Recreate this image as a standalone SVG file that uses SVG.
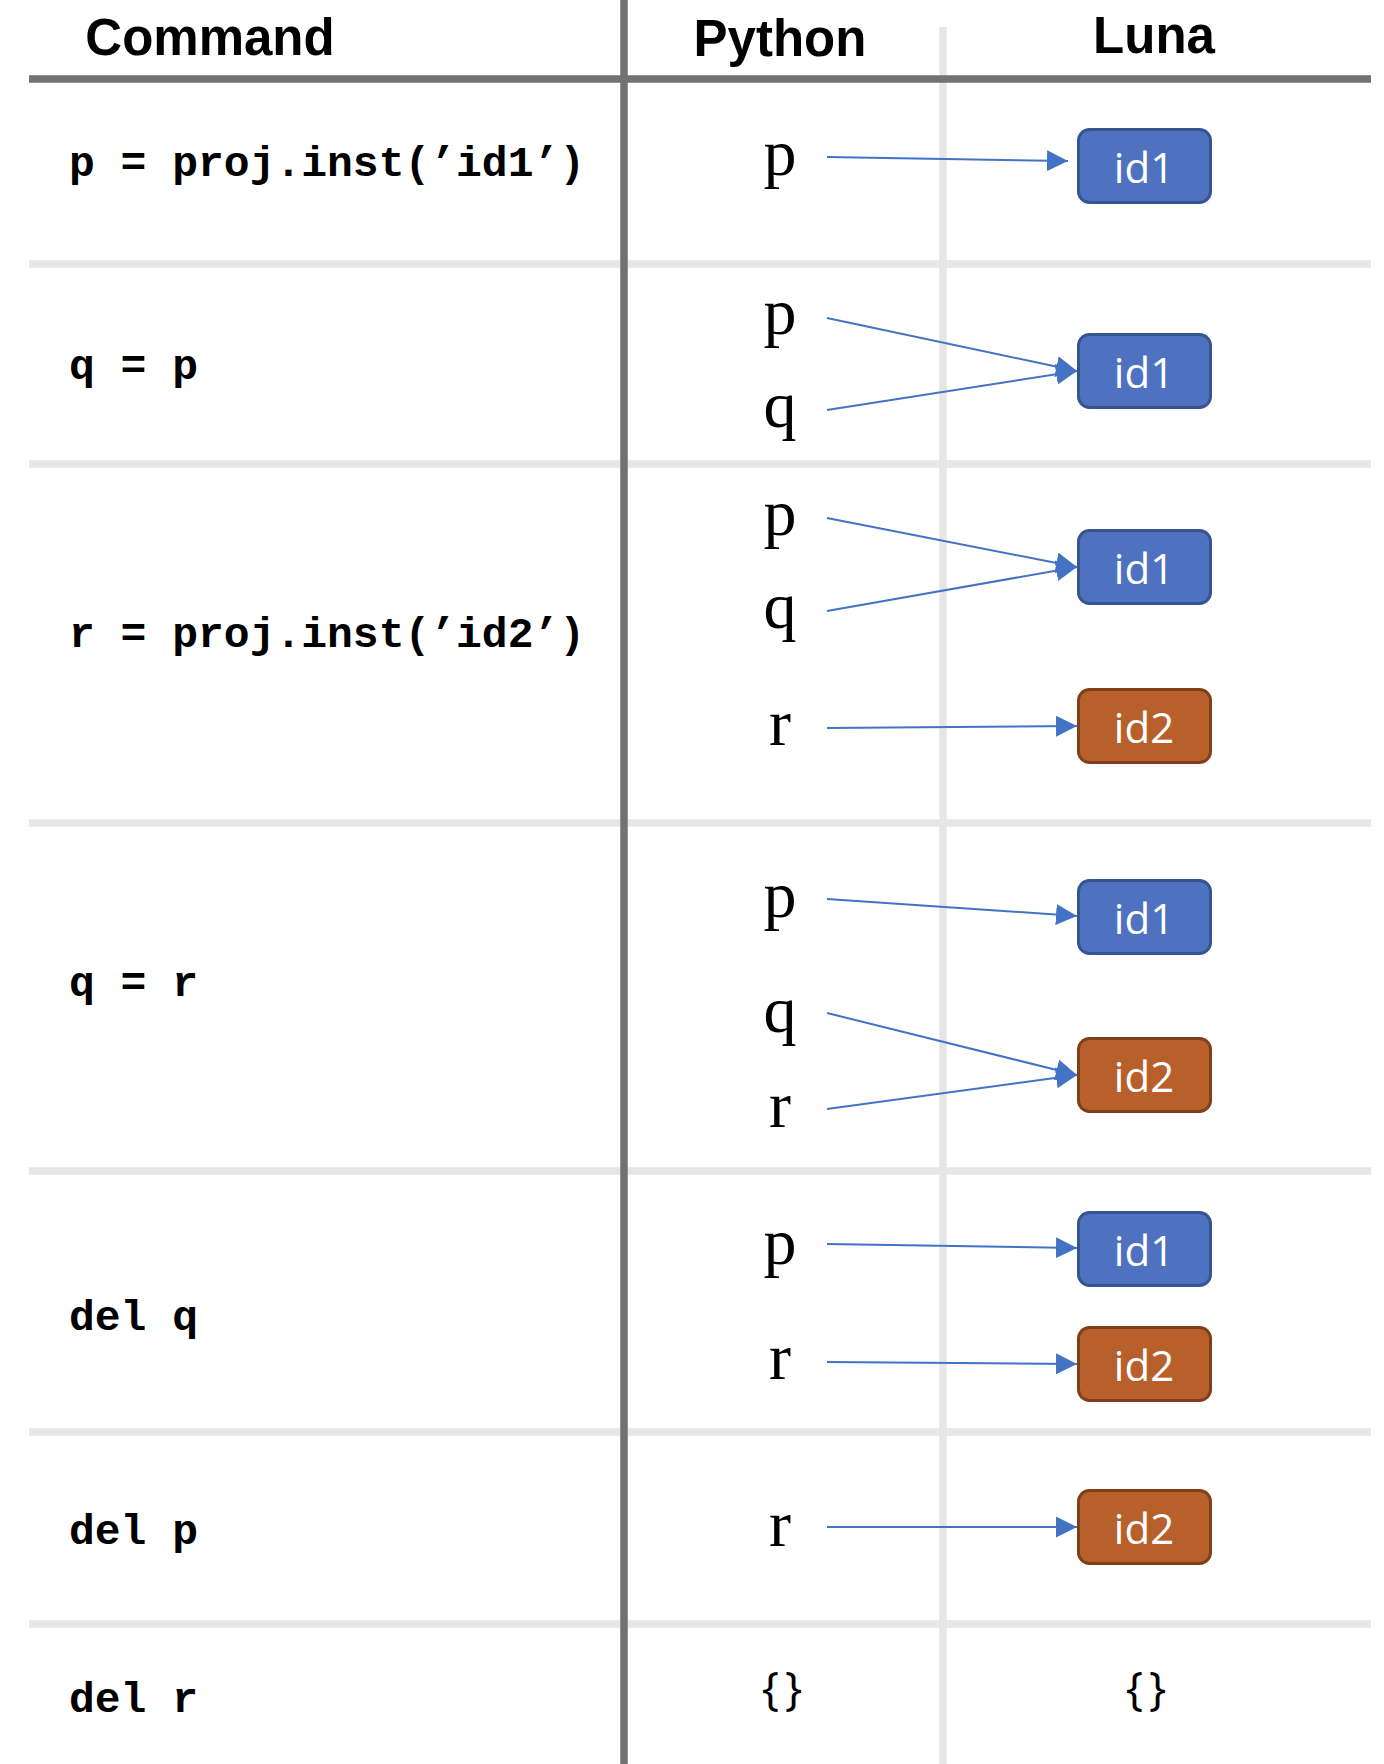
<svg xmlns="http://www.w3.org/2000/svg" width="1384" height="1764" viewBox="0 0 1384 1764">
<style>
.hdr{font-family:"Liberation Sans",Arial,sans-serif;font-weight:bold;font-size:51px;fill:#000;text-anchor:middle}
.cmd{font-family:"Liberation Mono","Courier New",monospace;font-weight:bold;font-size:43px;fill:#000}
.var{font-family:"Liberation Serif","Times New Roman",serif;font-size:66px;fill:#000;text-anchor:middle}
.empty{font-family:"Open Sans","Noto Sans",sans-serif;font-size:46px;fill:#000;text-anchor:middle;letter-spacing:6px}
.lbl{font-family:"Open Sans","Noto Sans",sans-serif;font-size:42px;fill:#fff;text-anchor:middle}
.b1{fill:#4E72BF;stroke:#36548F;stroke-width:3}
.b2{fill:#B8602B;stroke:#7F3F18;stroke-width:3}
.light{stroke:#E7E6E6;stroke-width:7.5}
.dark{stroke:#767171;stroke-width:7.5}
.conn line{stroke:#4472C4;stroke-width:2;marker-end:url(#ah)}
</style>
<defs>
<marker id="ah" markerUnits="userSpaceOnUse" markerWidth="21" markerHeight="21" refX="21" refY="10.5" orient="auto" viewBox="0 0 21 21">
<path d="M0,0 L21,10.5 L0,21 Z" fill="#4472C4"/>
</marker>
</defs>
<rect width="1384" height="1764" fill="#fff"/>
<g id="grid">
<line class="light" x1="943" y1="27" x2="943" y2="1764"/>
<line class="light" x1="29" y1="264" x2="1371" y2="264"/>
<line class="light" x1="29" y1="464" x2="1371" y2="464"/>
<line class="light" x1="29" y1="823" x2="1371" y2="823"/>
<line class="light" x1="29" y1="1171" x2="1371" y2="1171"/>
<line class="light" x1="29" y1="1432" x2="1371" y2="1432"/>
<line class="light" x1="29" y1="1624" x2="1371" y2="1624"/>
<line class="dark" x1="29" y1="79" x2="1371" y2="79"/>
<line class="dark" x1="624" y1="0" x2="624" y2="1764" stroke-width="7"/>
</g>
<g id="headers">
<text class="hdr" x="210" y="55">Command</text>
<text class="hdr" x="780" y="56">Python</text>
<text class="hdr" x="1154" y="53">Luna</text>
</g>
<g id="commands">
<text class="cmd" x="69" y="176">p = proj.inst(’id1’)</text>
<text class="cmd" x="69" y="379">q = p</text>
<text class="cmd" x="69" y="647">r = proj.inst(’id2’)</text>
<text class="cmd" x="69" y="996">q = r</text>
<text class="cmd" x="69" y="1330">del q</text>
<text class="cmd" x="69" y="1544">del p</text>
<text class="cmd" x="69" y="1712">del r</text>
</g>
<g id="connectors" class="conn">
<line x1="827" y1="157" x2="1068" y2="161"/>
<line x1="827" y1="318" x2="1077" y2="371"/>
<line x1="827" y1="410" x2="1077" y2="371"/>
<line x1="827" y1="518" x2="1077" y2="567"/>
<line x1="827" y1="611" x2="1077" y2="567"/>
<line x1="827" y1="728" x2="1077" y2="726"/>
<line x1="827" y1="899" x2="1077" y2="916"/>
<line x1="827" y1="1013" x2="1077" y2="1075"/>
<line x1="827" y1="1109" x2="1077" y2="1075"/>
<line x1="827" y1="1244" x2="1077" y2="1248"/>
<line x1="827" y1="1362" x2="1077" y2="1364"/>
<line x1="827" y1="1527" x2="1077" y2="1527"/>
</g>
<g id="var-r1-p"><text class="var" x="780" y="175">p</text></g>
<g id="var-r2-p"><text class="var" x="780" y="334">p</text></g>
<g id="var-r2-q"><text class="var" x="780" y="427">q</text></g>
<g id="var-r3-p"><text class="var" x="780" y="535">p</text></g>
<g id="var-r3-q"><text class="var" x="780" y="628">q</text></g>
<g id="var-r3-r"><text class="var" x="780" y="745">r</text></g>
<g id="var-r4-p"><text class="var" x="780" y="917">p</text></g>
<g id="var-r4-q"><text class="var" x="780" y="1032">q</text></g>
<g id="var-r4-r"><text class="var" x="780" y="1127">r</text></g>
<g id="var-r5-p"><text class="var" x="780" y="1264">p</text></g>
<g id="var-r5-r"><text class="var" x="780" y="1379">r</text></g>
<g id="var-r6-r"><text class="var" x="780" y="1546">r</text></g>
<g id="py-empty"><text class="empty" x="785" y="1705">{}</text></g>
<g id="luna-empty"><text class="empty" x="1149" y="1705">{}</text></g>
<g id="box-r1-id1"><rect class="b1" x="1078.5" y="129.5" width="132" height="73" rx="11"/><text class="lbl" x="1144" y="183">id1</text></g>
<g id="box-r2-id1"><rect class="b1" x="1078.5" y="334.5" width="132" height="73" rx="11"/><text class="lbl" x="1144" y="388">id1</text></g>
<g id="box-r3-id1"><rect class="b1" x="1078.5" y="530.5" width="132" height="73" rx="11"/><text class="lbl" x="1144" y="584">id1</text></g>
<g id="box-r3-id2"><rect class="b2" x="1078.5" y="689.5" width="132" height="73" rx="11"/><text class="lbl" x="1144" y="743">id2</text></g>
<g id="box-r4-id1"><rect class="b1" x="1078.5" y="880.5" width="132" height="73" rx="11"/><text class="lbl" x="1144" y="934">id1</text></g>
<g id="box-r4-id2"><rect class="b2" x="1078.5" y="1038.5" width="132" height="73" rx="11"/><text class="lbl" x="1144" y="1092">id2</text></g>
<g id="box-r5-id1"><rect class="b1" x="1078.5" y="1212.5" width="132" height="73" rx="11"/><text class="lbl" x="1144" y="1266">id1</text></g>
<g id="box-r5-id2"><rect class="b2" x="1078.5" y="1327.5" width="132" height="73" rx="11"/><text class="lbl" x="1144" y="1381">id2</text></g>
<g id="box-r6-id2"><rect class="b2" x="1078.5" y="1490.5" width="132" height="73" rx="11"/><text class="lbl" x="1144" y="1544">id2</text></g>
</svg>
